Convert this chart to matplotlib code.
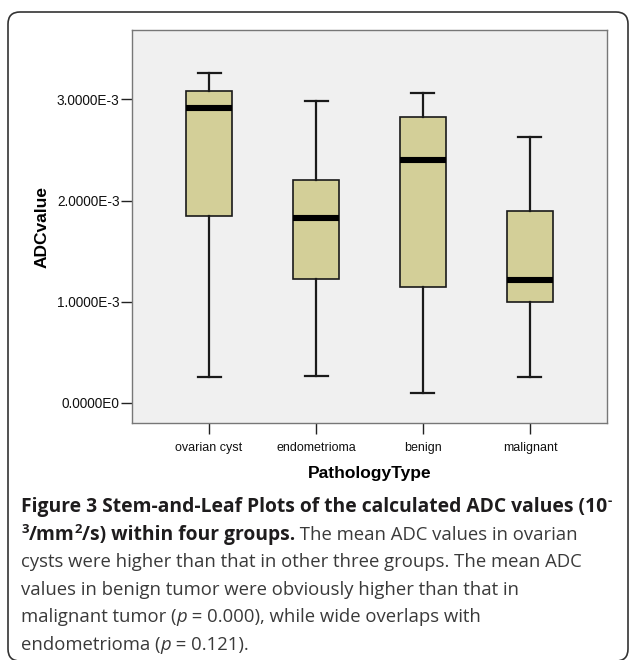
import matplotlib
matplotlib.use("Agg")
import matplotlib.pyplot as plt
from matplotlib.patches import FancyBboxPatch
from matplotlib.transforms import IdentityTransform

# ---- data (values in mm^2/s) ----
categories = ["ovarian cyst", "endometrioma", "benign", "malignant"]
whisker_low = [0.254e-3, 0.267e-3, 0.100e-3, 0.257e-3]
q1_values = [1.85e-3, 1.222e-3, 1.15e-3, 0.995e-3]
medians = [2.92e-3, 1.83e-3, 2.40e-3, 1.22e-3]
q3_values = [3.08e-3, 2.20e-3, 2.83e-3, 1.90e-3]
whisker_high = [3.26e-3, 2.98e-3, 3.06e-3, 2.63e-3]
y_ticks = [0.0, 1.0e-3, 2.0e-3, 3.0e-3]
y_tick_labels = ["0.0000E0", "1.0000E-3", "2.0000E-3", "3.0000E-3"]

W, H = 629, 660
fig = plt.figure(figsize=(W / 100, H / 100), dpi=100)
fig.patch.set_facecolor("white")

# axes in pixel geometry
axl, axr, axt, axb = 132, 607, 30, 423
ax = fig.add_axes([axl / W, 1 - axb / H, (axr - axl) / W, (axb - axt) / H])
ax.set_facecolor("#f0f0f0")

stats = []
for i, c in enumerate(categories):
    stats.append(dict(label=c, whislo=whisker_low[i], q1=q1_values[i], med=medians[i],
                      q3=q3_values[i], whishi=whisker_high[i], fliers=[]))

bp = ax.bxp(stats, positions=range(len(categories)), widths=0.43, capwidths=0.215,
            patch_artist=True, showfliers=False,
            boxprops=dict(facecolor="#d3cf98", edgecolor="#1a1a1a", linewidth=1.2),
            whiskerprops=dict(color="#1a1a1a", linewidth=1.6),
            capprops=dict(color="#1a1a1a", linewidth=1.6),
            medianprops=dict(color="black", linewidth=4.4, solid_capstyle="butt"))

ax.set_xlim(-0.72, 3.72)
ax.set_ylim(-0.198e-3, 3.686e-3)
ax.set_yticks(y_ticks)
ax.set_yticklabels(y_tick_labels)
ax.set_xticks(range(len(categories)))
ax.set_xticklabels(categories)

for s in ax.spines.values():
    s.set_color("#777777")
    s.set_linewidth(1.0)

ax.tick_params(axis="y", length=8, width=1.0, color="#222222", pad=1,
               labelsize=9.8, labelcolor="#111111")
ax.tick_params(axis="x", length=8, width=1.0, color="#222222", pad=5.5,
               labelsize=9, labelcolor="#111111")
for lab in ax.get_yticklabels() + ax.get_xticklabels():
    lab.set_fontfamily("Liberation Sans")

ax.set_ylabel("ADCvalue", fontsize=12.5, fontweight="bold", family="Liberation Sans")
ax.set_xlabel("PathologyType", fontsize=12.5, fontweight="bold", family="Liberation Sans")
ax.yaxis.set_label_coords((50 - axl) / (axr - axl), 0.5)
ax.xaxis.set_label_coords(0.5, -(466 - axb) / (axb - axt))

# rounded frame
frame = FancyBboxPatch((8, H - 661), 620, 661 - 12,
                       boxstyle="round,pad=0,rounding_size=12",
                       transform=IdentityTransform(), fill=False,
                       edgecolor="#333333", linewidth=1.2)
fig.add_artist(frame)

# caption with mixed styles
fs_bold = 13.9
fs_reg = 13.35
fam = ["Open Sans", "DejaVu Sans"]
lines = [
    [("Figure 3 Stem-and-Leaf Plots of the calculated ADC values (10", "b"), ("-", "bsup")],
    [("3", "bsup"), ("/mm", "b"), ("2", "bsup"), ("/s) within four groups.", "b"),
     (" The mean ADC values in ovarian", "r")],
    [("cysts were higher than that in other three groups. The mean ADC", "r")],
    [("values in benign tumor were obviously higher than that in", "r")],
    [("malignant tumor (", "r"), ("p", "i"), (" = 0.000), while wide overlaps with", "r")],
    [("endometrioma (", "r"), ("p", "i"), (" = 0.121).", "r")],
]
baselines = [512, 539.6, 567.2, 594.8, 622.4, 650]
renderer = fig.canvas.get_renderer()
for runs, base in zip(lines, baselines):
    x = 21
    for txt, st in runs:
        kw = dict(family=fam, va="baseline", ha="left")
        y = base
        if st.startswith("b"):
            kw["fontweight"] = "bold"
            kw["fontsize"] = fs_bold
            kw["color"] = "#1e1c1d"
        else:
            kw["fontsize"] = fs_reg
            kw["color"] = "#3a3a3a"
        if st == "i":
            kw["fontstyle"] = "italic"
        if st.endswith("sup"):
            kw["fontsize"] = fs_bold * 0.68
            y = base - 7
        t = fig.text(x / W, 1 - y / H, txt, **kw)
        bb = t.get_window_extent(renderer)
        x += bb.width

fig.savefig("out.png", dpi=100)
